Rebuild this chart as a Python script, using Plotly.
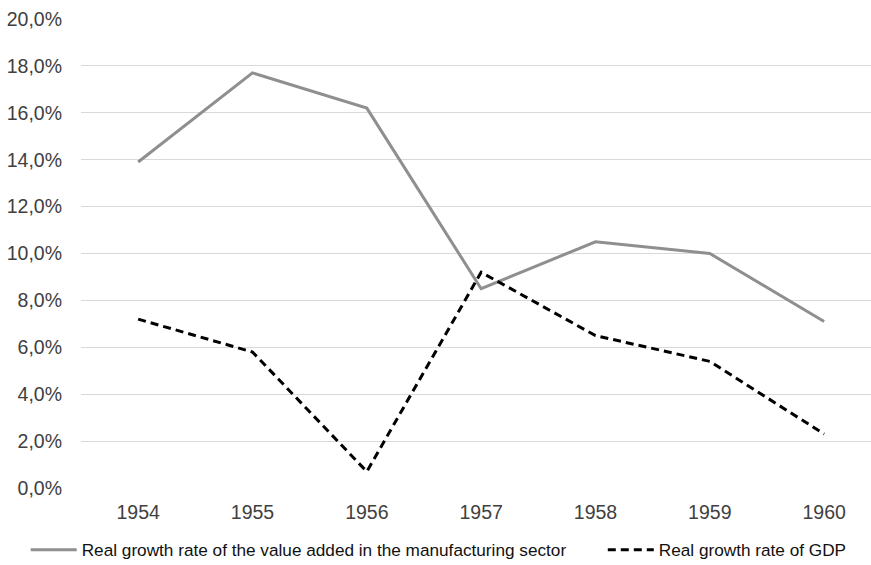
import plotly.graph_objects as go

years = [1954, 1955, 1956, 1957, 1958, 1959, 1960]
manufacturing = [13.9, 17.7, 16.2, 8.5, 10.5, 10.0, 7.1]
gdp = [7.2, 5.8, 0.7, 9.2, 6.5, 5.4, 2.3]
ytick_vals = [0, 2, 4, 6, 8, 10, 12, 14, 16, 18, 20]
ytick_text = ["0,0%", "2,0%", "4,0%", "6,0%", "8,0%", "10,0%", "12,0%", "14,0%", "16,0%", "18,0%", "20,0%"]

fig = go.Figure()
fig.add_trace(go.Scatter(
    x=years, y=manufacturing, mode="lines",
    name="Real growth rate of the value added in the manufacturing sector",
    line=dict(color="#8f8f8f", width=3),
    legend="legend",
))
fig.add_trace(go.Scatter(
    x=years, y=gdp, mode="lines",
    name="Real growth rate of GDP",
    line=dict(color="#000000", width=3, dash="8px,5px"),
    legend="legend2",
))

legend_common = dict(
    orientation="h", xanchor="left",
    yref="container", y=0.0265, yanchor="middle",
    font=dict(size=17.2, color="#111111"),
    itemwidth=46,
    bgcolor="rgba(0,0,0,0)",
)

fig.update_layout(
    width=871, height=565,
    margin=dict(l=81, r=0, t=19, b=77),
    paper_bgcolor="white", plot_bgcolor="white",
    font=dict(family="Liberation Sans, Arial, sans-serif", color="#404040", size=19.5),
    showlegend=True,
    legend=dict(x=-0.07, **legend_common),
    legend2=dict(x=0.6605, **legend_common),
    xaxis=dict(
        range=[1953.5, 1960.41],
        tickmode="array", tickvals=years, ticktext=[str(y) for y in years],
        showgrid=False, zeroline=False, showline=False,
        ticks="", ticklabelstandoff=10,
        tickfont=dict(size=19.5, color="#404040"),
        fixedrange=True,
    ),
    yaxis=dict(
        range=[0, 20],
        tickmode="array", tickvals=ytick_vals, ticktext=ytick_text,
        showgrid=True, gridcolor="#d9d9d9", gridwidth=1,
        zeroline=False, showline=False, ticks="",
        ticklabelstandoff=18,
        tickfont=dict(size=19.5, color="#404040"),
        fixedrange=True,
    ),
)

fig.write_html("out.html", config={"displayModeBar": False},
               post_script="document.body.style.margin='0px';")
